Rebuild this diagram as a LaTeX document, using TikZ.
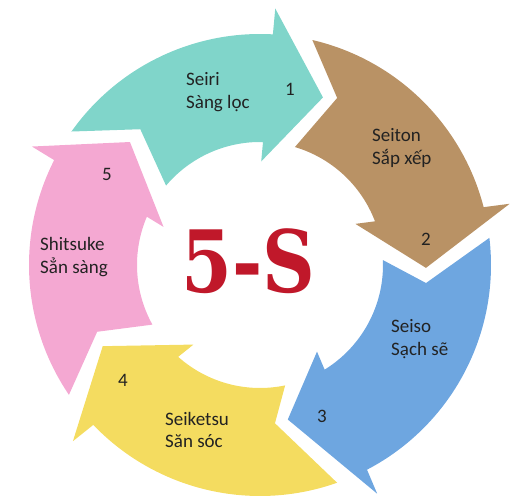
\documentclass[tikz,border=0pt]{standalone}
\usepackage{fontspec}
\usetikzlibrary{calc}
\newfontfamily\labelfont{Carlito}
\newfontfamily\titlefont{DejaVu Serif}[FakeStretch=0.85]
\definecolor{fsteal}{HTML}{80D5CA}
\definecolor{fsbrown}{HTML}{B99265}
\definecolor{fsblue}{HTML}{6EA6E0}
\definecolor{fsyellow}{HTML}{F4DC60}
\definecolor{fspink}{HTML}{F4A8D2}
\definecolor{fsred}{HTML}{C0182A}
\definecolor{fstext}{HTML}{222222}
\tikzset{
  steplabel/.style={anchor=west, align=left, inner sep=0pt, text=fstext,
    font=\labelfont\fontsize{19}{22.5}\selectfont},
  stepnum/.style={inner sep=0pt, text=fstext, font=\labelfont\fontsize{19}{22.5}\selectfont},
  title/.style={inner sep=0pt, text=fsred, font=\titlefont\bfseries\fontsize{86}{86}\selectfont}
}
\begin{document}
\begin{tikzpicture}[x=1pt,y=1pt]
  \useasboundingbox (-260,-237) rectangle (255,265);
  \def\rout{231pt}
  \def\rin{123pt}
  \foreach \co/\ta/\tb/\nc/\ha/\hb/\tip in {
      fsteal/144.7/139.8/131.4:181/86.8/88.6/69.4:179,
      fsbrown/76.9/73.5/65.2:184/14.5/20.8/-1:166,
      fsblue/6.75/2.3/-6.2:167/-62.4/-58.3/-79.8:157,
      fsyellow/-70.5/-78.2/-84.6:159/-136.2/-131.7/-152.7:177,
      fspink/214.2/209/202.3:176/153/156.9/136.6:179}
    \fill[\co] (\ta:\rout) arc (\ta:\ha:\rout)
      -- ($(\hb:\rin)!1.24!(\ha:\rout)$) -- (\tip)
      -- ($(\ha:\rout)!1.18!(\hb:\rin)$) -- (\hb:\rin)
      arc (\hb:\tb:\rin) -- (\nc) -- cycle;
  \node[title] (fives) at (-11.5,4) {5-S};
  \node[steplabel] (seiri) at (-74,173) {Seiri\\Sàng lọc};
  \node[steplabel] (seiton) at (112,117) {Seiton\\Sắp xếp};
  \node[steplabel] (seiso) at (131,-74) {Seiso\\Sạch sẽ};
  \node[steplabel] (seiketsu) at (-95,-165) {Seiketsu\\Săn sóc};
  \node[steplabel] (shitsuke) at (-220,8) {Shitsuke\\Sẳn sàng};
  \node[stepnum] (n1) at (30,176) {1};
  \node[stepnum] (n2) at (166,26) {2};
  \node[stepnum] (n3) at (62,-151) {3};
  \node[stepnum] (n4) at (-137,-115) {4};
  \node[stepnum] (n5) at (-153,91) {5};
\end{tikzpicture}
\end{document}
